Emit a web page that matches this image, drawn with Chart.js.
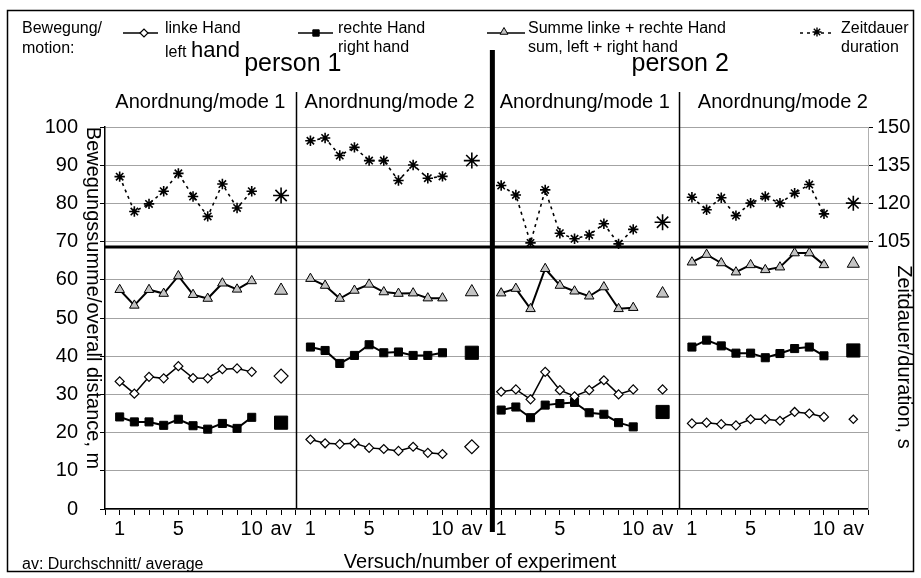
<!DOCTYPE html>
<html>
<head>
<meta charset="utf-8">
<title>Bewegungssumme / Zeitdauer</title>
<script src="https://cdn.jsdelivr.net/npm/chart.js@4/dist/chart.umd.min.js"></script>
<style>
  html, body { margin: 0; padding: 0; background: #fff; }
  #wrap { position: relative; width: 921px; height: 578px; }
</style>
</head>
<body>
<div id="wrap"><canvas id="motionChart"></canvas></div>
<script>
/* Bewegungssumme und Zeitdauer - person 1 / person 2, mode 1 / mode 2 */

var TRIALS = [1, 2, 3, 4, 5, 6, 7, 8, 9, 10];
var PANEL_SPAN = 13;
var AV_POS = 12;
var X_TICK_POS = [1, 5, 10, 12];
var X_TICK_TEXT = ['1', '5', '10', 'av'];
var DURATION_TICKS = [105, 120, 135, 150];
var MODE_NAMES = ['Anordnung/mode 1', 'Anordnung/mode 2', 'Anordnung/mode 1', 'Anordnung/mode 2'];
var PERSON_NAMES = ['person 1', 'person 2'];

// left hand, m (one row per panel: p1 mode1, p1 mode2, p2 mode1, p2 mode2)
var LEFT_HAND = [
  [33.4, 30.2, 34.6, 34.2, 37.4, 34.3, 34.2, 36.6, 36.8, 35.9],
  [18.2, 17.2, 17.0, 17.2, 16.0, 15.7, 15.2, 16.3, 14.7, 14.4],
  [30.7, 31.3, 28.7, 35.9, 31.1, 29.5, 31.1, 33.7, 30.0, 31.3],
  [22.4, 22.6, 22.2, 21.9, 23.5, 23.5, 23.1, 25.4, 25.0, 24.1]
];
var LEFT_HAND_AV = [34.8, 16.3, 31.3, 23.5];

// right hand, m
var RIGHT_HAND = [
  [24.1, 22.8, 22.8, 21.9, 23.5, 21.8, 20.9, 22.4, 21.1, 24.0],
  [42.4, 41.5, 38.1, 40.2, 43.0, 40.9, 41.1, 40.2, 40.2, 40.9],
  [25.9, 26.7, 23.9, 27.2, 27.6, 27.9, 25.2, 24.8, 22.6, 21.5],
  [42.4, 44.2, 42.7, 40.8, 40.8, 39.6, 40.7, 42.0, 42.4, 40.1]
];
var RIGHT_HAND_AV = [22.6, 40.9, 25.4, 41.5];

// sum left + right, m
var SUM_HANDS = [
  [57.4, 53.3, 57.4, 56.4, 61.0, 56.1, 55.1, 59.1, 57.5, 59.7],
  [60.3, 58.5, 55.1, 57.2, 58.8, 56.8, 56.4, 56.5, 55.2, 55.2],
  [56.5, 57.7, 52.4, 62.9, 58.5, 57.0, 55.7, 58.1, 52.4, 52.7],
  [64.6, 66.6, 64.4, 62.0, 63.9, 62.6, 63.3, 67.0, 67.0, 63.9]
];
var SUM_HANDS_AV = [57.2, 56.8, 56.4, 64.2];

// duration, s
var DURATION = [
  [130.5, 116.8, 119.8, 124.8, 131.8, 122.7, 114.9, 127.6, 118.2, 124.8],
  [144.6, 145.7, 138.8, 142.0, 136.8, 136.8, 129.0, 135.1, 129.9, 130.6],
  [127.0, 123.3, 104.5, 125.3, 108.3, 106.1, 107.6, 112.0, 104.1, 109.8],
  [122.4, 117.5, 122.2, 115.2, 120.1, 122.7, 120.1, 124.0, 127.4, 115.9]
];
var DURATION_AV = [123.1, 136.8, 112.6, 120.1];

// layout / styling
var FONT = 'Arial, "Liberation Sans", Helvetica, sans-serif';
var SEPARATOR_VALUE = 68.6;
var DIVIDERS = [13, 26.4, 39.1];
var MODE_LABEL_X = [6.5, 19.4, 32.7, 46.2];
var PERSON_LABEL_X = [12.8, 39.2];
var MARKER_SIZE = { left: 4.5, right: 5.7, sum: 5.5, duration: 5.2 };
var AV_MARKER_SIZE = {
  left: [7, 7, 4.5, 4.2],
  right: [9.3, 9.3, 9.3, 9.3],
  sum: [7.5, 7.5, 7, 7],
  duration: [8, 8, 8, 7.5]
};
var TRIANGLE_FILL = '#c4c4c4';

function buildPoints(values, averages) {
  var pts = [];
  var p, i, base;
  for (p = 0; p < values.length; p += 1) {
    base = p * PANEL_SPAN;
    for (i = 0; i < TRIALS.length; i += 1) {
      pts.push({ x: base + TRIALS[i], y: values[p][i] });
    }
    pts.push({ x: base + AV_POS - 1, y: null });
    pts.push({ x: base + AV_POS, y: averages[p] });
    pts.push({ x: base + PANEL_SPAN, y: null });
  }
  return pts;
}

function buildRadii(normal, avSizes) {
  var r = [];
  var p, i;
  for (p = 0; p < avSizes.length; p += 1) {
    for (i = 0; i < TRIALS.length; i += 1) {
      r.push(normal);
    }
    r.push(0, avSizes[p], 0);
  }
  return r;
}

function drawMarker(ctx, style, radius, x, y, fill, lineWidth) {
  ctx.save();
  ctx.fillStyle = fill;
  ctx.strokeStyle = '#000';
  ctx.lineWidth = lineWidth;
  ctx.setLineDash([]);
  Chart.helpers.drawPoint(ctx, { pointStyle: style, radius: radius, rotation: 0, borderWidth: lineWidth }, x, y);
  ctx.restore();
}

function drawSampleLine(ctx, x1, x2, y, width, dash) {
  ctx.save();
  ctx.strokeStyle = '#000';
  ctx.lineWidth = width;
  ctx.setLineDash(dash);
  ctx.beginPath();
  ctx.moveTo(x1, y);
  ctx.lineTo(x2, y);
  ctx.stroke();
  ctx.restore();
}

function text(ctx, str, x, y, size, align) {
  ctx.font = size + 'px ' + FONT;
  ctx.textAlign = align || 'left';
  ctx.fillText(str, x, y);
}

function rotatedText(ctx, str, cx, cy, size) {
  ctx.save();
  ctx.translate(cx, cy);
  ctx.rotate(Math.PI / 2);
  ctx.font = size + 'px ' + FONT;
  ctx.textAlign = 'center';
  ctx.textBaseline = 'middle';
  ctx.fillText(str, 0, 0);
  ctx.restore();
}

var figurePlugin = {
  id: 'figureDecor',
  beforeDatasetsDraw: function (chart) {
    var ctx = chart.ctx;
    var xs = chart.scales.x;
    var ys = chart.scales.y;
    var area = chart.chartArea;
    var sy = ys.getPixelForValue(SEPARATOR_VALUE);

    ctx.save();
    ctx.strokeStyle = '#000';
    ctx.lineWidth = 3;
    ctx.beginPath();
    ctx.moveTo(area.left, sy);
    ctx.lineTo(area.right, sy);
    ctx.stroke();

    ctx.lineWidth = 1.5;
    [DIVIDERS[0], DIVIDERS[2]].forEach(function (v) {
      var px = Math.round(xs.getPixelForValue(v)) + 0.5;
      ctx.beginPath();
      ctx.moveTo(px, 92);
      ctx.lineTo(px, area.bottom);
      ctx.stroke();
    });
    ctx.restore();
  },
  afterDatasetsDraw: function (chart) {
    var ctx = chart.ctx;
    var px = chart.scales.x.getPixelForValue(DIVIDERS[1]);
    ctx.save();
    ctx.fillStyle = '#000';
    ctx.fillRect(px - 2.5, 50, 5, 482);
    ctx.restore();
  },
  afterDraw: function (chart) {
    var ctx = chart.ctx;
    var xs = chart.scales.x;
    var i;

    ctx.save();
    ctx.fillStyle = '#000';
    ctx.textBaseline = 'alphabetic';

    // header legend
    text(ctx, 'Bewegung/', 22, 33, 16);
    text(ctx, 'motion:', 22, 53, 16);

    drawSampleLine(ctx, 123, 158, 33, 1.5, []);
    drawMarker(ctx, 'rectRot', 4, 144, 33, '#fff', 1.2);
    text(ctx, 'linke Hand', 165, 33, 16);
    text(ctx, 'left', 165, 57, 16);
    text(ctx, 'hand', 191, 57, 22);

    drawSampleLine(ctx, 298, 333, 33, 1.5, []);
    drawMarker(ctx, 'rect', 4.5, 316, 33, '#000', 1);
    text(ctx, 'rechte Hand', 338, 33, 16);
    text(ctx, 'right hand', 338, 52, 16);

    drawSampleLine(ctx, 487, 525, 33, 1.5, []);
    drawMarker(ctx, 'triangle', 4.5, 504, 32, TRIANGLE_FILL, 1);
    text(ctx, 'Summe linke + rechte Hand', 528, 33, 16);
    text(ctx, 'sum, left + right hand', 528, 52, 16);

    drawSampleLine(ctx, 800, 835, 33, 1.5, [3, 4]);
    drawMarker(ctx, 'star', 4.5, 817, 32, '#000', 1.4);
    text(ctx, 'Zeitdauer', 841, 33, 16);
    text(ctx, 'duration', 841, 52, 16);

    // person / mode headings
    for (i = 0; i < PERSON_NAMES.length; i += 1) {
      text(ctx, PERSON_NAMES[i], xs.getPixelForValue(PERSON_LABEL_X[i]), 71, 25, 'center');
    }
    for (i = 0; i < MODE_NAMES.length; i += 1) {
      text(ctx, MODE_NAMES[i], xs.getPixelForValue(MODE_LABEL_X[i]), 108, 20, 'center');
    }

    // axis titles
    rotatedText(ctx, 'Bewegungssumme/overall distance, m', 93, 298, 20);
    rotatedText(ctx, 'Zeitdauer/duration, s', 904, 357, 20);
    text(ctx, 'Versuch/number of experiment', 480, 568, 20, 'center');
    text(ctx, 'av: Durchschnitt/ average', 22, 569, 16);

    // figure frame
    ctx.strokeStyle = '#000';
    ctx.lineWidth = 1.5;
    ctx.strokeRect(7.5, 10.5, 906, 561);
    ctx.restore();
  }
};

function initMotionChart() {
  var canvas = document.getElementById('motionChart');

  Chart.defaults.font.family = FONT;
  Chart.defaults.color = '#000';

  new Chart(canvas.getContext('2d'), {
    type: 'line',
    data: {
      datasets: [
        {
          label: 'linke Hand / left hand',
          data: buildPoints(LEFT_HAND, LEFT_HAND_AV),
          yAxisID: 'y',
          borderColor: '#000',
          borderWidth: 1.5,
          pointStyle: 'rectRot',
          pointRadius: buildRadii(MARKER_SIZE.left, AV_MARKER_SIZE.left),
          pointBackgroundColor: '#fff',
          pointBorderColor: '#000',
          pointBorderWidth: 1.2,
          tension: 0
        },
        {
          label: 'rechte Hand / right hand',
          data: buildPoints(RIGHT_HAND, RIGHT_HAND_AV),
          yAxisID: 'y',
          borderColor: '#000',
          borderWidth: 2,
          pointStyle: 'rect',
          pointRadius: buildRadii(MARKER_SIZE.right, AV_MARKER_SIZE.right),
          pointBackgroundColor: '#000',
          pointBorderColor: '#000',
          pointBorderWidth: 1,
          tension: 0
        },
        {
          label: 'Summe linke + rechte Hand / sum, left + right hand',
          data: buildPoints(SUM_HANDS, SUM_HANDS_AV),
          yAxisID: 'y',
          borderColor: '#000',
          borderWidth: 2,
          pointStyle: 'triangle',
          pointRadius: buildRadii(MARKER_SIZE.sum, AV_MARKER_SIZE.sum),
          pointBackgroundColor: TRIANGLE_FILL,
          pointBorderColor: '#000',
          pointBorderWidth: 1,
          tension: 0
        },
        {
          label: 'Zeitdauer / duration',
          data: buildPoints(DURATION, DURATION_AV),
          yAxisID: 'y2',
          borderColor: '#000',
          borderWidth: 1.6,
          borderDash: [3, 4],
          pointStyle: 'star',
          pointRadius: buildRadii(MARKER_SIZE.duration, AV_MARKER_SIZE.duration),
          pointBackgroundColor: '#000',
          pointBorderColor: '#000',
          pointBorderWidth: 1.6,
          tension: 0
        }
      ]
    },
    options: {
      responsive: true,
      maintainAspectRatio: false,
      animation: false,
      events: [],
      spanGaps: false,
      layout: { padding: { left: 8, right: 8, top: 127, bottom: 39 } },
      plugins: {
        legend: { display: false },
        tooltip: { enabled: false }
      },
      scales: {
        x: {
          type: 'linear',
          min: 0,
          max: PANEL_SPAN * 4,
          afterBuildTicks: function (scale) {
            var t = [];
            for (var v = 0; v <= PANEL_SPAN * 4; v += 1) {
              t.push({ value: v });
            }
            scale.ticks = t;
          },
          afterFit: function (scale) { scale.height = 30; },
          ticks: {
            autoSkip: false,
            maxRotation: 0,
            padding: 2,
            font: { size: 20 },
            callback: function (value) {
              var k = X_TICK_POS.indexOf(value % PANEL_SPAN);
              return k === -1 ? '' : X_TICK_TEXT[k];
            }
          },
          grid: { drawOnChartArea: false, drawTicks: true, tickLength: 6, tickColor: '#000', tickWidth: 1 },
          border: { color: '#000', width: 1.5 }
        },
        y: {
          position: 'left',
          min: 0,
          max: 100,
          afterFit: function (scale) { scale.width = 97; },
          ticks: { stepSize: 10, padding: 22, font: { size: 20 } },
          grid: { color: '#a3a3a3', lineWidth: 1, drawTicks: true, tickLength: 5, tickColor: '#000' },
          border: { color: '#000', width: 1.5 }
        },
        y2: {
          position: 'right',
          min: 0,
          max: 150,
          afterBuildTicks: function (scale) {
            scale.ticks = DURATION_TICKS.map(function (v) { return { value: v }; });
          },
          afterFit: function (scale) { scale.width = 45; },
          ticks: { padding: 4, font: { size: 20 } },
          grid: { drawOnChartArea: false, drawTicks: true, tickLength: 5, tickColor: '#000' },
          border: { color: '#b0b0b0', width: 1 }
        }
      }
    },
    plugins: [figurePlugin]
  });
}

document.addEventListener('DOMContentLoaded', initMotionChart);
</script>
</body>
</html>
